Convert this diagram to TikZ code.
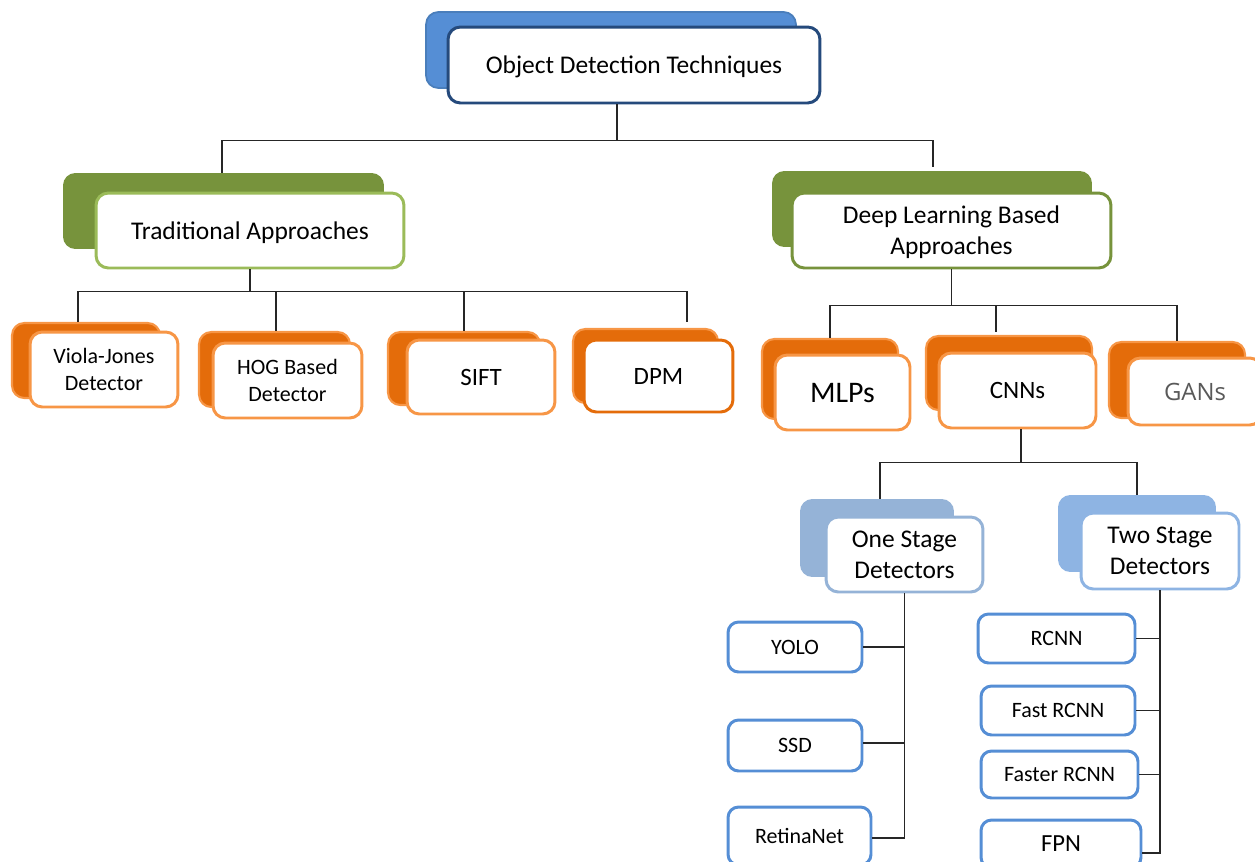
\documentclass[tikz,border=0pt]{standalone}
\usepackage{fontspec}
\setmainfont{Carlito}
\newfontfamily\gansfont{Open Sans}
\usetikzlibrary{positioning}

\definecolor{rootfill}{HTML}{558ED5}
\definecolor{rootedge}{HTML}{4A7EBB}
\definecolor{rootdark}{HTML}{254A7C}
\definecolor{darkgreen}{HTML}{77933C}
\definecolor{lightgreen}{HTML}{9BBB59}
\definecolor{darkorange}{HTML}{E46C0A}
\definecolor{lightorange}{HTML}{F79646}
\definecolor{paleblue}{HTML}{95B3D7}
\definecolor{skyblue}{HTML}{8EB4E3}
\definecolor{leafblue}{HTML}{558ED5}
\definecolor{gangray}{HTML}{595959}

\begin{document}
\begin{tikzpicture}[x=0.02cm,y=-0.02cm]
  \tikzstyle{every node}=[inner sep=0pt,align=center]
  \tikzstyle{backbox}=[rounded corners=7pt]
  \tikzstyle{frontbox}=[draw,fill=white,rounded corners=7pt,line width=1.7pt,text depth=0pt]
  \tikzstyle{leafbox}=[draw=leafblue,fill=white,rounded corners=6pt,line width=1.7pt,font=\fontsize{12.5}{15}\selectfont]
  \tikzstyle{orangeback}=[backbox,fill=darkorange,draw=lightorange,line width=1.2pt]
  \tikzstyle{link}=[line width=0.6pt,black!85]
  \tikzstyle{bigtext}=[font=\fontsize{14.5}{17.6}\selectfont]
  \tikzstyle{midtext}=[font=\fontsize{12.5}{15.3}\selectfont]
  \tikzstyle{alttext}=[font=\fontsize{14.2}{17}\selectfont]

  \useasboundingbox (0,0) rectangle (1255,862);

  % root
  \node[backbox,fill=rootfill,draw=rootedge,line width=1pt,minimum width=7.4cm,minimum height=1.52cm] (rootback) at (611,50) {};
  \node[frontbox,draw=rootdark,bigtext,minimum width=7.44cm,minimum height=1.52cm] (root) at (634,65) {Object Detection Techniques};

  % second level
  \node[backbox,fill=darkgreen,minimum width=6.42cm,minimum height=1.52cm] (tradback) at (223.5,211) {};
  \node[frontbox,draw=lightgreen,bigtext,minimum width=6.16cm,minimum height=1.5cm] (trad) at (250,230.5) {Traditional Approaches};
  \node[backbox,fill=darkgreen,minimum width=6.4cm,minimum height=1.52cm] (deepback) at (932,209) {};
  \node[frontbox,draw=darkgreen,bigtext,minimum width=6.38cm,minimum height=1.5cm] (deep) at (951.5,230.5) {Deep Learning Based\\Approaches};

  % traditional methods
  \node[orangeback,minimum width=2.96cm,minimum height=1.5cm] (violaback) at (86,360.5) {};
  \node[frontbox,draw=lightorange,midtext,minimum width=2.96cm,minimum height=1.5cm] (viola) at (104,369.5) {Viola-Jones\\Detector};
  \node[orangeback,minimum width=3.02cm,minimum height=1.5cm] (hogback) at (274.5,369.5) {};
  \node[frontbox,draw=lightorange,midtext,minimum width=2.98cm,minimum height=1.5cm] (hog) at (287.5,380.5) {HOG Based\\Detector};
  \node[orangeback,minimum width=3.04cm,minimum height=1.46cm] (siftback) at (464,368.5) {};
  \node[frontbox,draw=lightorange,alttext,minimum width=2.96cm,minimum height=1.48cm] (sift) at (481,377) {SIFT};
  \node[orangeback,minimum width=2.9cm,minimum height=1.48cm] (dpmback) at (645.5,366) {};
  \node[frontbox,draw=darkorange,alttext,minimum width=2.98cm,minimum height=1.44cm] (dpm) at (658.5,376) {DPM};

  % deep learning methods
  \node[orangeback,minimum width=2.72cm,minimum height=1.6cm] (mlpsback) at (830,379) {};
  \node[frontbox,draw=lightorange,font=\fontsize{17}{20}\selectfont,minimum width=2.7cm,minimum height=1.5cm] (mlps) at (842.5,392.5) {MLPs};
  \node[orangeback,minimum width=3.32cm,minimum height=1.48cm] (cnnsback) at (1009,373) {};
  \node[frontbox,draw=lightorange,alttext,minimum width=3.14cm,minimum height=1.5cm] (cnns) at (1017.5,390.5) {CNNs};
  \node[orangeback,minimum width=2.72cm,minimum height=1.52cm] (gansback) at (1177,380) {};
  \node[frontbox,draw=lightorange,font=\gansfont\fontsize{13.6}{16}\selectfont,text=gangray,minimum width=2.68cm,minimum height=1.34cm] (gans) at (1195,391.5) {GANs};

  % detector families
  \node[backbox,fill=paleblue,minimum width=3.08cm,minimum height=1.56cm] (oneback) at (877,538) {};
  \node[frontbox,draw=paleblue,bigtext,minimum width=3.14cm,minimum height=1.5cm] (one) at (904.5,554.5) {One Stage\\Detectors};
  \node[backbox,fill=skyblue,minimum width=3.16cm,minimum height=1.54cm] (twoback) at (1137,533.5) {};
  \node[frontbox,draw=skyblue,bigtext,minimum width=3.16cm,minimum height=1.52cm] (two) at (1160,551) {Two Stage\\Detectors};

  % detectors
  \node[leafbox,minimum width=2.68cm,minimum height=1cm] (yolo) at (795,647) {YOLO};
  \node[leafbox,minimum width=2.68cm,minimum height=1.02cm] (ssd) at (795,745.5) {SSD};
  \node[leafbox,minimum width=2.86cm,minimum height=1.16cm] (retina) at (799.5,836) {RetinaNet};
  \node[leafbox,minimum width=3.14cm,minimum height=0.98cm] (rcnn) at (1056.5,638.5) {RCNN};
  \node[leafbox,minimum width=3.08cm,minimum height=0.98cm] (fast) at (1058,710.5) {Fast RCNN};
  \node[leafbox,minimum width=3.14cm,minimum height=0.94cm] (faster) at (1059.5,774.5) {Faster RCNN};
  \node[leafbox,font=\fontsize{14}{16}\selectfont,minimum width=3.2cm,minimum height=0.96cm] (fpn) at (1061,844) {FPN};

  % connectors
  \draw[link] ([xshift=-0.34cm]root.south) -- ++(0,36) -| ([xshift=-0.03cm]tradback.north);
  \draw[link] ([xshift=-0.34cm]root.south) -- ++(0,36) -| ([xshift=0.02cm,yshift=0.08cm]deepback.north);
  \draw[link] (trad.south) -- ++(0,22) -| ([xshift=-0.16cm]violaback.north);
  \draw[link] (trad.south) -- ++(0,22) -| ([xshift=0.03cm]hogback.north);
  \draw[link] (trad.south) -- ++(0,22) -| (siftback.north);
  \draw[link] (trad.south) -- ++(0,22) -| ([xshift=0.83cm,yshift=0.12cm]dpmback.north);
  \draw[link] (deep.south) -- ++(0,36) -| (mlpsback.north);
  \draw[link] (deep.south) -- ++(0,36) -| ([xshift=-0.26cm,yshift=0.06cm]cnnsback.north);
  \draw[link] (deep.south) -- ++(0,36) -| (gansback.north);
  \draw[link] ([xshift=0.07cm]cnns.south) -- ++(0,33) -| ([xshift=0.06cm]oneback.north);
  \draw[link] ([xshift=0.07cm]cnns.south) -- ++(0,33) -| (twoback.north);
  \draw[link] (one.south) |- (yolo.east);
  \draw[link] (one.south) |- ([yshift=0.05cm]ssd.east);
  \draw[link] (one.south) |- ([yshift=-0.04cm]retina.east);
  \draw[link] (two.south) |- (rcnn.east);
  \draw[link] (two.south) |- (fast.east);
  \draw[link] (two.south) |- (faster.east);
  \draw[link] (two.south) |- ([yshift=-0.18cm]fpn.east);
\end{tikzpicture}
\end{document}
